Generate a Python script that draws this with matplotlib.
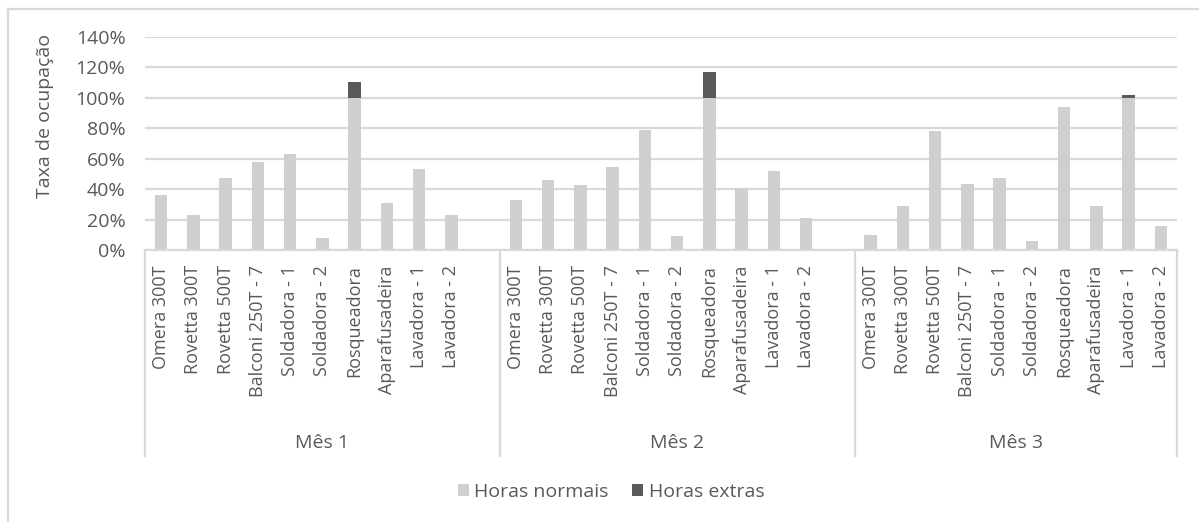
import matplotlib
matplotlib.use("Agg")
import matplotlib.pyplot as plt
from matplotlib.patches import Patch
from matplotlib.lines import Line2D
from matplotlib.transforms import blended_transform_factory

plt.rcParams['font.family'] = ['Open Sans', 'DejaVu Sans']

# Occupation rate per machine (%), split into normal and extra hours
machines = ["Omera 300T", "Rovetta 300T", "Rovetta 500T", "Balconi 250T - 7",
            "Soldadora - 1", "Soldadora - 2", "Rosqueadora", "Aparafusadeira",
            "Lavadora - 1", "Lavadora - 2"]
months = ["Mês 1", "Mês 2", "Mês 3"]

normal_m1 = [36, 23, 47, 58, 63, 8, 100, 31, 53, 23]
extra_m1 = [0, 0, 0, 0, 0, 0, 10.5, 0, 0, 0]
normal_m2 = [33, 46, 42.5, 54.5, 79, 9, 100, 41, 52, 21]
extra_m2 = [0, 0, 0, 0, 0, 0, 17, 0, 0, 0]
normal_m3 = [10, 29, 78, 43, 47, 6, 94, 29, 100, 15.5]
extra_m3 = [0, 0, 0, 0, 0, 0, 0, 0, 2, 0]

normal = [normal_m1, normal_m2, normal_m3]
extra = [extra_m1, extra_m2, extra_m3]

# Category slots per month: the first two months carry an empty trailing slot
month_slots = [11, 11, 10]

C_NORMAL = "#D0CECE"
C_EXTRA = "#595959"
C_GRID = "#D9D9D9"
C_TEXT = "#595959"

W, H = 1199, 522
fig = plt.figure(figsize=(W / 100, H / 100), dpi=100)
ax = fig.add_axes([145 / W, 1 - 250 / H, (1177 - 145) / W, (250 - 36.7) / H])

xs, labels, starts = [], [], []
start = 0
for m, nslots in enumerate(month_slots):
    starts.append(start)
    for i, name in enumerate(machines):
        xs.append(start + i + 0.5)
        labels.append(name)
    start += nslots
starts.append(start)

norm_flat = [v for series in normal for v in series]
extra_flat = [v for series in extra for v in series]

ax.bar(xs, norm_flat, width=0.38, color=C_NORMAL, zorder=2)
ax.bar(xs, extra_flat, width=0.38, bottom=norm_flat, color=C_EXTRA, zorder=2)

ax.set_xlim(0, start)
ax.set_ylim(0, 140)
ax.set_yticks(range(0, 141, 20))
ax.set_yticklabels([f"{v}%" for v in range(0, 141, 20)])
ax.yaxis.grid(True, color=C_GRID, linewidth=1.6, zorder=0)
ax.set_axisbelow(True)

ax.set_xticks(xs)
ax.set_xticklabels(labels, rotation=90, va="top", ha="center")
ax.tick_params(axis="x", length=0, pad=11.0, labelsize=13, colors=C_TEXT)
ax.tick_params(axis="y", length=0, pad=14, labelsize=14, colors=C_TEXT)

for side in ["top", "right", "left"]:
    ax.spines[side].set_visible(False)
ax.spines["bottom"].set_color(C_GRID)
ax.spines["bottom"].set_linewidth(1.6)

# Month group separators and labels below the category axis
tr = blended_transform_factory(ax.transData, fig.transFigure)
for s in starts:
    ax.add_line(Line2D([s, s], [1 - 250 / H, 1 - 456 / H], transform=tr,
                       color=C_GRID, linewidth=1.6, clip_on=False))
for m, name in enumerate(months):
    cx = (starts[m] + starts[m + 1]) / 2
    ax.text(cx, 1 - 443 / H, name, transform=tr, ha="center", va="center",
            fontsize=14, color=C_TEXT)

fig.text(45 / W, 1 - 116 / H, "Taxa de ocupação", rotation=90, ha="center",
         va="center", fontsize=14, color=C_TEXT)

handles = [Patch(facecolor=C_NORMAL, label="Horas normais"),
           Patch(facecolor=C_EXTRA, label="Horas extras")]
fig.legend(handles=handles, loc="center", bbox_to_anchor=(611 / W, 1 - 492 / H),
           ncol=2, frameon=False, fontsize=14, labelcolor=C_TEXT,
           handlelength=0.55, handleheight=0.55, handletextpad=0.3, columnspacing=1.2)

# Chart area border
fig.add_artist(Line2D([8 / W, 1], [1 - 8.5 / H, 1 - 8.5 / H], transform=fig.transFigure,
                      color=C_GRID, linewidth=1.6))
fig.add_artist(Line2D([8 / W, 8 / W], [1 - 8.5 / H, 0], transform=fig.transFigure,
                      color=C_GRID, linewidth=1.6))

fig.savefig("out.png", dpi=100, facecolor="white")
